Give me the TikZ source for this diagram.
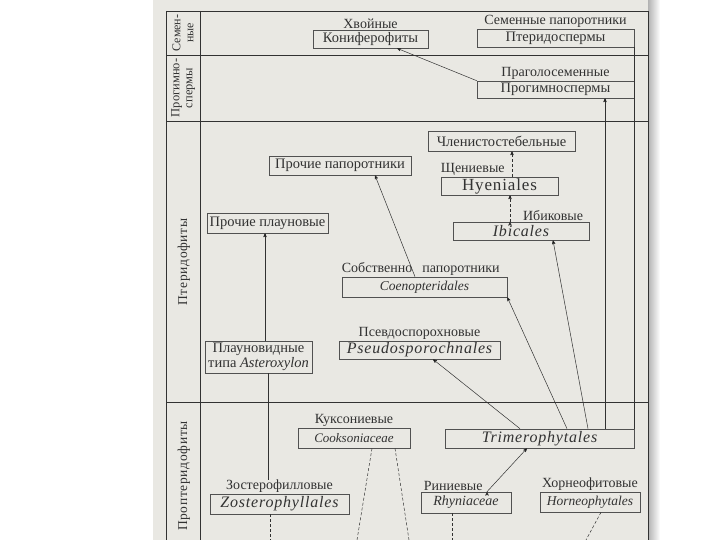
\documentclass[tikz,border=0pt]{standalone}
\usepackage{fontspec}
\setmainfont{Liberation Serif}
\newfontfamily\latfont[LetterSpace=5]{Liberation Serif}
\usetikzlibrary{positioning, arrows}
\definecolor{paper}{RGB}{233,232,227}
\definecolor{ink}{RGB}{50,50,50}

\begin{document}
\begin{tikzpicture}[x=1pt,y=-1pt,
	box/.style={draw=ink!85,line width=0.6pt,inner sep=1pt,text=ink,font=\fontsize{14.5}{15}\selectfont},
	lat/.style={box,font=\fontsize{13.5}{15}\selectfont\itshape},
	latwide/.style={box,font=\latfont\fontsize{16}{17}\selectfont\itshape},
	lab/.style={inner sep=0pt,text=ink,font=\fontsize{14}{15}\selectfont},
	zone/.style={inner sep=0pt,rotate=90,text=ink,align=center,font=\latfont\fontsize{13.5}{13}\selectfont},
	link/.style={draw=ink,line width=0.5pt},
	arr/.style={link,-stealth'},
	dotline/.style={link,dash pattern=on 3pt off 2pt}]
	\useasboundingbox (0,0) rectangle (720,540);
	\fill[paper] (153,0) rectangle (650,540);
	\shade[left color=black!30,right color=white] (648,0) rectangle (660,540);
	% grid of the time zones
	\draw[ink,line width=0.6pt] (166,11) -- (648,11) (166,55) -- (648,55)
		(166,121) -- (648,121) (166,402) -- (648,402)
		(166,11) -- (166,540) (200,11) -- (200,540) (648,11) -- (648,540);
	\node[zone,font=\fontsize{12}{13}\selectfont] (z1) at (183,33) {Семен-\\ные};
	\node[zone,font=\fontsize{12.5}{13}\selectfont] (z2) at (183,88) {Прогимно-\\спермы};
	\node[zone] (z3) at (184,262) {Птеридофиты};
	\node[zone] (z4) at (184,476) {Проптеридофиты};
	% boxes
	\node[box,minimum width=115pt,minimum height=18pt] (conif) at (370.5,39) {Кониферофиты};
	\node[lab] (coniflab) [above=1pt of conif] {Хвойные};
	\node[box,minimum width=157pt,minimum height=18pt] (pterid) at (555.5,38) {Птеридоспермы};
	\node[lab] (pteridlab) [above=1pt of pterid] {Семенные папоротники};
	\node[box,minimum width=157pt,minimum height=17pt] (progym) at (555.5,89.5) {Прогимноспермы};
	\node[lab] (progymlab) [above=1pt of progym] {Праголосеменные};
	\node[box,minimum width=147pt,minimum height=20pt] (equis) at (501.5,141) {Членистостебельные};
	\node[box,font=\latfont\fontsize{17}{18}\selectfont,minimum width=117pt,minimum height=18pt] (hyen) at (499.5,186) {Hyeniales};
	\node[lab] (hyenlab) [above right=1pt and 0pt of hyen.north west] {Щениевые};
	\node[latwide,minimum width=136pt,minimum height=18pt] (ibic) at (521,231) {Ibicales};
	\node[lab] (ibiclab) [above left=1pt and 6pt of ibic.north east] {Ибиковые};
	\node[box,minimum width=142pt,minimum height=19pt] (ofern) at (340,165.5) {Прочие папоротники};
	\node[box,minimum width=121pt,minimum height=20pt] (olyco) at (267.5,223) {Прочие плауновые};
	\node[lat,minimum width=165pt,minimum height=20pt] (coeno) at (424.5,287) {Coenopteridales};
	\node[lab] (coenolab) [above right=1pt and 0pt of coeno.north west] {Собственно\hspace{10pt}папоротники};
	\node[latwide,minimum width=161pt,minimum height=18pt] (pseudo) at (419.5,350) {Pseudosporochnales};
	\node[lab] (pseudolab) [above=1pt of pseudo] {Псевдоспорохновые};
	\node[box,align=center,minimum width=107pt,minimum height=32pt] (astero) at (258.5,357) {Плауновидные\\типа \textit{Asteroxylon}};
	\node[latwide,font=\latfont\fontsize{16}{18}\selectfont\itshape,minimum width=189pt,minimum height=19pt] (trimero) at (539.5,438.5) {Trimerophytales};
	\node[lat,font=\fontsize{13}{15}\selectfont\itshape,minimum width=112pt,minimum height=20pt] (cooks) at (354,438) {Cooksoniaceae};
	\node[lab] (cookslab) [above=1pt of cooks] {Куксониевые};
	\node[latwide,minimum width=139pt,minimum height=20pt] (zoster) at (279.5,504) {Zosterophyllales};
	\node[lab] (zosterlab) [above=1pt of zoster] {Зостерофилловые};
	\node[lat,font=\fontsize{14}{15}\selectfont\itshape,minimum width=90pt,minimum height=21pt] (rhyn) at (466,502.5) {Rhyniaceae};
	\node[lab] (rhynlab) [above right=1pt and 3pt of rhyn.north west] {Риниевые};
	\node[lat,minimum width=100pt,minimum height=20pt] (horneo) at (590,502) {Horneophytales};
	\node[lab] (horneolab) [above=1pt of horneo] {Хорнеофитовые};
	% columns and loose ends
	\coordinate (c1) at (605,0);
	\coordinate (c2) at (512,0);
	\coordinate (c3) at (510,0);
	\coordinate (c4) at (265,0);
	\coordinate (c5) at (268,0);
	\coordinate (e1) at (270,540);
	\coordinate (e2) at (357,540);
	\coordinate (e3) at (409,540);
	\coordinate (e4) at (452,540);
	\coordinate (e5) at (586,540);
	% connectors
	\path[arr] (progym.north west) edge ([xshift=26.5pt]conif.south)
		(trimero.north -| c1) edge (progym.south -| c1)
		([xshift=48.5pt]trimero.north) edge ([xshift=32pt]ibic.south)
		([xshift=27.5pt]trimero.north) edge (coeno.south east)
		([xshift=-19.5pt]trimero.north) edge ([xshift=13.5pt]pseudo.south)
		([xshift=-9.5pt]coeno.north) edge ([xshift=35pt]ofern.south)
		(astero.north -| c4) edge (olyco.south -| c4)
		([xshift=21pt]rhyn.north) edge ([xshift=-12.5pt]trimero.south);
	\path[link] (trimero.north east) edge (pterid.south east)
		(zosterlab.north -| c5) edge (astero.south -| c5);
	\path[dotline,-stealth'] (hyen.north -| c2) edge (equis.south -| c2)
		(ibic.north -| c3) edge (hyen.south -| c3);
	\path[dotline] (zoster.south -| e1) edge (e1)
		([xshift=18pt]cooks.south) edge (e2)
		([xshift=41pt]cooks.south) edge (e3)
		(rhyn.south -| e4) edge (e4)
		([xshift=11pt]horneo.south) edge (e5);
\end{tikzpicture}
\end{document}
